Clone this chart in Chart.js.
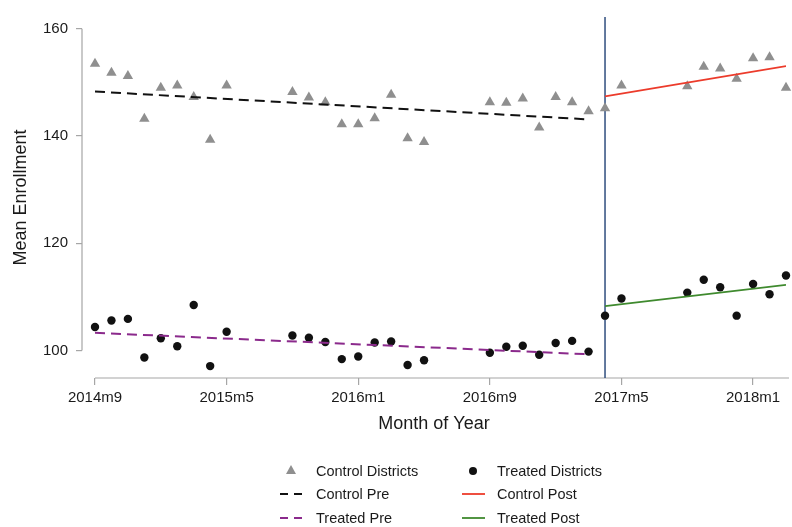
<!DOCTYPE html>
<html lang="en">
<head>
  <meta charset="UTF-8">
  <title>Mean Enrollment</title>
  <script src="https://cdn.jsdelivr.net/npm/chart.js"></script>
  <style>
    body { margin: 0; background: #fff; }
    #wrap { width: 792px; height: 527px; position: relative; }
  </style>
</head>
<body>
<div id="wrap">
  <canvas id="enrollChart"></canvas>
</div>

<script>
  // months with observations (summer months missing)
  const months = ['2014m9', '2014m10', '2014m11', '2014m12', '2015m1', '2015m2', '2015m3', '2015m4', '2015m5',
    '2015m9', '2015m10', '2015m11', '2015m12', '2016m1', '2016m2', '2016m3', '2016m4', '2016m5',
    '2016m9', '2016m10', '2016m11', '2016m12', '2017m1', '2017m2', '2017m3', '2017m4', '2017m5',
    '2017m9', '2017m10', '2017m11', '2017m12', '2018m1', '2018m2', '2018m3'];

  const controlMeans = [153.5, 151.8, 151.2, 143.2, 149.0, 149.4, 147.3, 139.3, 149.4,
    148.2, 147.2, 146.3, 142.2, 142.2, 143.3, 147.7, 139.6, 138.9,
    146.3, 146.2, 147.0, 141.6, 147.3, 146.3, 144.6, 145.2, 149.4,
    149.3, 152.9, 152.6, 150.7, 154.5, 154.7, 149.0];

  const treatedMeans = [104.4, 105.6, 105.9, 98.7, 102.3, 100.8, 108.5, 97.1, 103.5,
    102.8, 102.4, 101.6, 98.4, 98.9, 101.5, 101.7, 97.3, 98.2,
    99.6, 100.7, 100.9, 99.2, 101.4, 101.8, 99.8, 106.5, 109.7,
    110.8, 113.2, 111.8, 106.5, 112.4, 110.5, 114.0];

  // fitted trend lines (start / end)
  const preMonths = ['2014m9', '2017m3'];
  const postMonths = ['2017m4', '2018m3'];
  const controlPre = [148.3, 143.1];
  const controlPost = [147.4, 153.05];
  const treatedPre = [103.3, 99.3];
  const treatedPost = [108.3, 112.25];

  const treatmentMonth = '2017m4';
  const xTickLabels = ['2014m9', '2015m5', '2016m1', '2016m9', '2017m5', '2018m1'];
  const yTicks = [100, 120, 140, 160];

  // '2014m9' -> 0, '2014m10' -> 1, ...
  function monthIndex(s) {
    const [y, m] = s.split('m').map(Number);
    return (y * 12 + m) - (2014 * 12 + 9);
  }
  const toPoints = (ms, vals) => ms.map((m, i) => ({ x: monthIndex(m), y: vals[i] }));

  const font = '"Liberation Sans", Arial, Helvetica, sans-serif';
  const axisGray = '#a6a6a6';

  const datasets = [
    { label: 'Control Districts', data: toPoints(months, controlMeans), pointStyle: 'triangle', clip: false,
      pointRadius: 6, backgroundColor: '#8f8f8f', borderColor: '#8f8f8f', borderWidth: 0, order: 2 },
    { label: 'Treated Districts', data: toPoints(months, treatedMeans), pointStyle: 'circle', clip: false,
      pointRadius: 4.2, backgroundColor: '#111', borderColor: '#111', borderWidth: 0, order: 2 },
    { label: 'Control Pre', data: toPoints(preMonths, controlPre), showLine: true, pointRadius: 0,
      borderColor: '#111', borderWidth: 2, borderDash: [10, 6], order: 1 },
    { label: 'Control Post', data: toPoints(postMonths, controlPost), showLine: true, pointRadius: 0,
      borderColor: '#ec3b2b', borderWidth: 1.8, order: 1 },
    { label: 'Treated Pre', data: toPoints(preMonths, treatedPre), showLine: true, pointRadius: 0,
      borderColor: '#8b2a8c', borderWidth: 2, borderDash: [10, 6], order: 1 },
    { label: 'Treated Post', data: toPoints(postMonths, treatedPost), showLine: true, pointRadius: 0,
      borderColor: '#3f8a2e', borderWidth: 1.8, order: 1 }
  ];

  // stata-like axes, the treatment line and the two-column legend
  const decorPlugin = {
    id: 'decor',
    beforeDatasetsDraw(chart) {
      const { ctx, chartArea, scales: { x, y } } = chart;
      ctx.save();
      ctx.strokeStyle = axisGray;
      ctx.lineWidth = 1.2;
      ctx.beginPath();
      ctx.moveTo(chartArea.left, y.getPixelForValue(yTicks[0]));
      ctx.lineTo(chartArea.left, y.getPixelForValue(yTicks[yTicks.length - 1]));
      ctx.moveTo(x.getPixelForValue(0), chartArea.bottom);
      ctx.lineTo(chartArea.right + 3, chartArea.bottom);
      ctx.stroke();

      const tx = x.getPixelForValue(monthIndex(treatmentMonth));
      ctx.strokeStyle = '#2f4d7e';
      ctx.lineWidth = 1.5;
      ctx.beginPath();
      ctx.moveTo(tx, chartArea.top);
      ctx.lineTo(tx, chartArea.bottom);
      ctx.stroke();
      ctx.restore();
    },
    afterDraw(chart) {
      const { ctx } = chart;
      const ds = chart.data.datasets;
      const cols = [{ sym: 291, text: 316 }, { sym: 473, text: 497 }];
      const rows = [471, 494, 518];
      ctx.save();
      ctx.font = '14.5px ' + font;
      ctx.textBaseline = 'middle';
      ds.forEach((d, i) => {
        const c = cols[i % 2];
        const yy = rows[Math.floor(i / 2)];
        if (d.showLine) {
          ctx.strokeStyle = d.borderColor;
          ctx.lineWidth = d.borderWidth;
          ctx.setLineDash(d.borderDash ? [8, 6] : []);
          ctx.beginPath();
          ctx.moveTo(c.sym - 11, yy);
          ctx.lineTo(c.sym + 12, yy);
          ctx.stroke();
          ctx.setLineDash([]);
        } else if (d.pointStyle === 'triangle') {
          ctx.fillStyle = d.backgroundColor;
          ctx.beginPath();
          ctx.moveTo(c.sym, yy - 6);
          ctx.lineTo(c.sym + 5, yy + 3);
          ctx.lineTo(c.sym - 5, yy + 3);
          ctx.closePath();
          ctx.fill();
        } else {
          ctx.fillStyle = d.backgroundColor;
          ctx.beginPath();
          ctx.arc(c.sym, yy, 4, 0, Math.PI * 2);
          ctx.fill();
        }
        ctx.fillStyle = '#1a1a1a';
        ctx.fillText(d.label, c.text, yy + 1);
      });
      ctx.restore();
    }
  };

  const ctx = document.getElementById('enrollChart').getContext('2d');
  new Chart(ctx, {
    type: 'scatter',
    data: { datasets: datasets },
    options: {
      responsive: true,
      maintainAspectRatio: false,
      animation: false,
      layout: { padding: { top: 10, right: 2, bottom: 92, left: 0 } },
      plugins: { legend: { display: false }, tooltip: { enabled: false } },
      scales: {
        x: {
          type: 'linear',
          min: -0.79,
          max: 42.0,
          afterBuildTicks: (scale) => { scale.ticks = xTickLabels.map(l => ({ value: monthIndex(l) })); },
          afterFit: (scale) => { scale.height = 57; },
          ticks: {
            color: '#1a1a1a', font: { family: font, size: 15 }, padding: 4, maxRotation: 0,
            callback: (v) => xTickLabels.find(l => monthIndex(l) === v) || ''
          },
          grid: { drawOnChartArea: false, drawTicks: true, tickLength: 7, color: axisGray, lineWidth: 1.2 },
          border: { display: false },
          title: { display: true, text: 'Month of Year', color: '#1a1a1a', font: { family: font, size: 18 }, padding: 0 }
        },
        y: {
          min: 94.878,
          max: 162.195,
          afterBuildTicks: (scale) => { scale.ticks = yTicks.map(v => ({ value: v })); },
          afterFit: (scale) => { scale.width = 82; },
          ticks: { color: '#1a1a1a', font: { family: font, size: 15 }, padding: 8 },
          grid: { drawOnChartArea: false, drawTicks: true, tickLength: 6, color: axisGray, lineWidth: 1.2 },
          border: { display: false },
          title: { display: true, text: 'Mean Enrollment', color: '#1a1a1a', font: { family: font, size: 18 }, padding: { top: 10, bottom: 0 } }
        }
      }
    },
    plugins: [decorPlugin]
  });
</script>
</body>
</html>
